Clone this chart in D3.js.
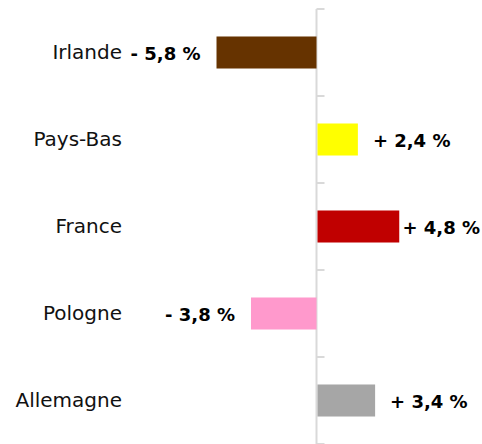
<!DOCTYPE html>
<html>
<head>
<meta charset="utf-8">
<script src="https://cdn.jsdelivr.net/npm/d3@7"></script>
<style>
  body { margin: 0; background: #fff; }
  .cat-label { font-family: "DejaVu Sans", sans-serif; font-size: 20px; fill: #111; }
  .val-label { font-family: "DejaVu Sans", sans-serif; font-size: 18px; font-weight: bold; fill: #000; }
</style>
</head>
<body>
<div id="chart"></div>
<script>
const countries = [`Irlande`, `Pays-Bas`, `France`, `Pologne`, `Allemagne`];
const values = [-5.8, 2.4, 4.8, -3.8, 3.4];
const colors = [`#663300`, `#ffff00`, `#c00000`, `#ff99cc`, `#a6a6a6`];

const width = 482;
const height = 444;
const axisX = 316.5;
const pxPerUnit = 17.24;

const fmt = (v) => `${v < 0 ? `-` : `+`} ${d3.format(`.1f`)(Math.abs(v)).replace(`.`, `,`)} %`;

const svg = d3.select(`#chart`).append(`svg`)
    .attr(`width`, width)
    .attr(`height`, height);

const x = d3.scaleLinear()
  .domain([-10, 10])
  .range([axisX - 10 * pxPerUnit, axisX + 10 * pxPerUnit]);

const y = d3.scaleBand()
  .domain(countries)
  .range([9, 444])
  .paddingInner(0.632)
  .paddingOuter(0.316);

const rows = countries.map((c, i) => ({ country: c, value: values[i], color: colors[i] }));

// axis line + ticks at band boundaries
const step = y.step();
const tickYs = d3.range(countries.length + 1).map((i) => y.range()[0] + i * step);

svg.append(`line`)
  .attr(`x1`, x(0)).attr(`x2`, x(0))
  .attr(`y1`, tickYs[0]).attr(`y2`, height)
  .attr(`stroke`, `#d9d9d9`)
  .attr(`stroke-width`, 2);

svg.selectAll(`.tick`)
    .data(tickYs)
  .enter().append(`line`)
    .attr(`class`, `tick`)
    .attr(`x1`, x(0)).attr(`x2`, x(0) + 8)
    .attr(`y1`, (d) => d).attr(`y2`, (d) => d)
    .attr(`stroke`, `#d9d9d9`)
    .attr(`stroke-width`, 2);

svg.selectAll(`.bar`)
    .data(rows)
  .enter().append(`rect`)
    .attr(`class`, `bar`)
    .attr(`x`, (d) => Math.min(x(0), x(d.value)) + (d.value > 0 ? 1 : 0))
    .attr(`y`, (d) => y(d.country))
    .attr(`width`, (d) => Math.abs(x(d.value) - x(0)) - (d.value > 0 ? 1 : 0))
    .attr(`height`, y.bandwidth())
    .attr(`fill`, (d) => d.color);

svg.selectAll(`.cat-label`)
    .data(rows)
  .enter().append(`text`)
    .attr(`class`, `cat-label`)
    .attr(`x`, 122)
    .attr(`y`, (d) => y(d.country) + y.bandwidth() / 2)
    .attr(`dy`, `0.3em`)
    .attr(`text-anchor`, `end`)
    .text((d) => d.country);

svg.selectAll(`.val-label`)
    .data(rows)
  .enter().append(`text`)
    .attr(`class`, `val-label`)
    .attr(`y`, (d) => y(d.country) + y.bandwidth() / 2)
    .attr(`dy`, `0.42em`)
    .attr(`text-anchor`, (d) => d.value < 0 ? `end` : `start`)
    .text((d) => fmt(d.value))
    .attr(`x`, function (d) {
      if (d.value < 0) return x(d.value) - 16;
      const w = this.getComputedTextLength();
      return Math.min(x(d.value) + 15, width - 2 - w);
    });
</script>
</body>
</html>
